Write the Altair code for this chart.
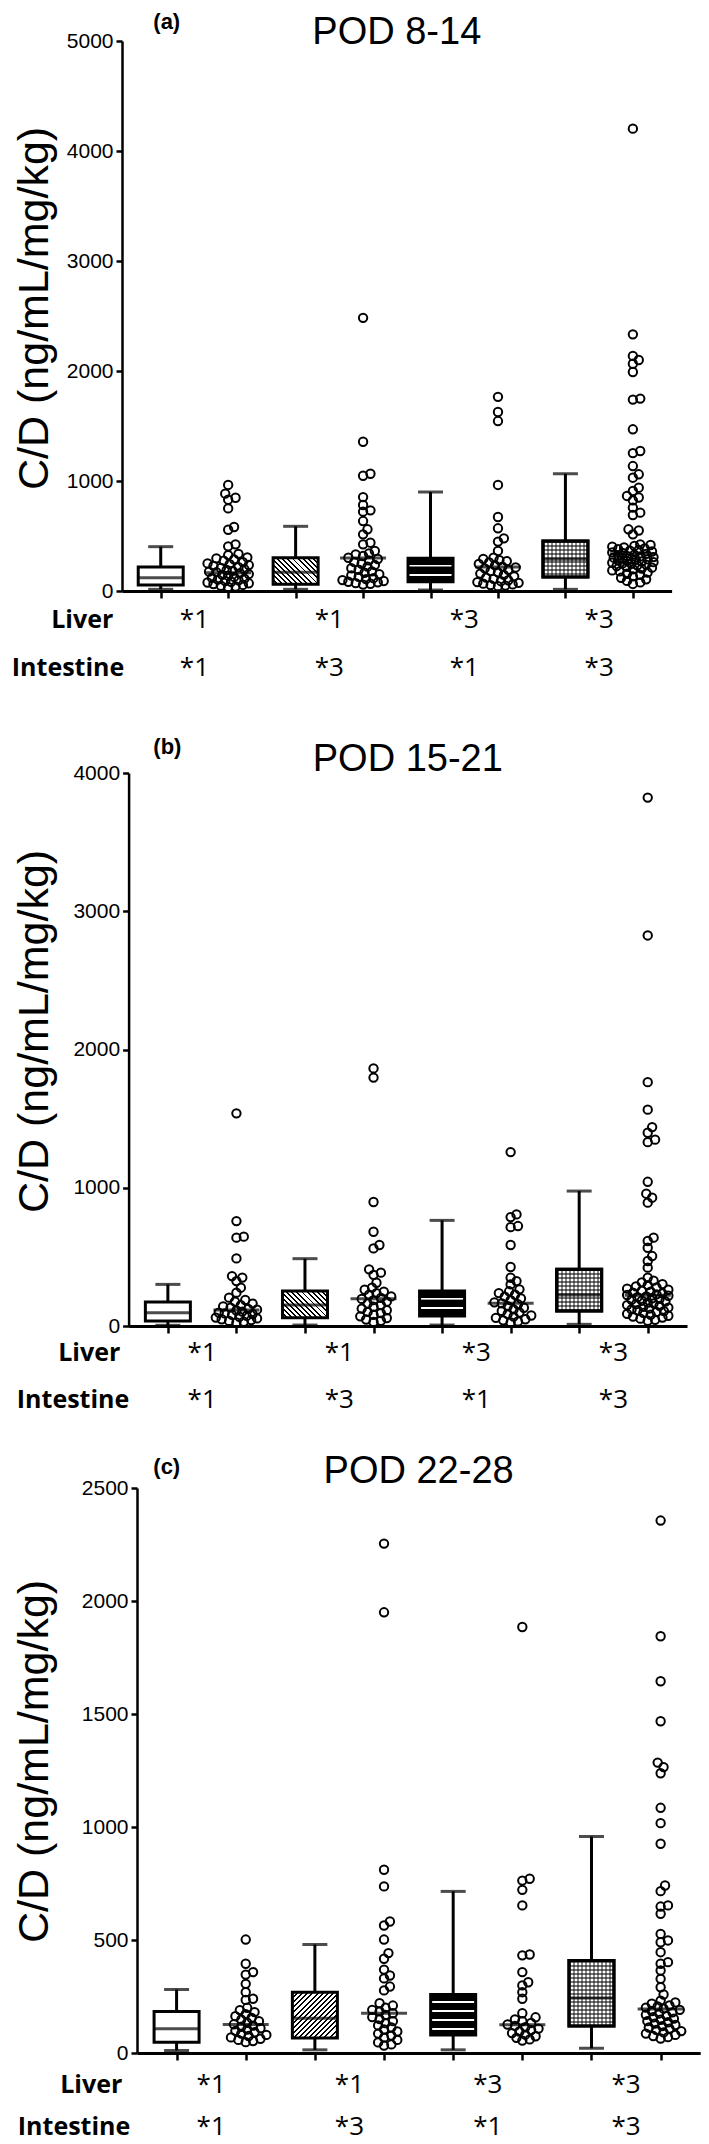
import math
import altair as alt
import pandas as pd

# ---------------- data ----------------
PANEL_LABELS = ["(a)", "(b)", "(c)"]
PANEL_TITLES = ["POD 8-14", "POD 15-21", "POD 22-28"]
Y_TITLE = "C/D (ng/mL/mg/kg)"
ROW_LIVER = "Liver"
ROW_INTESTINE = "Intestine"
LIVER = ["*1", "*1", "*3", "*3"]
INTESTINE = ["*1", "*3", "*1", "*3"]
POSITIONS = [1, 2, 3, 4, 5, 6, 7, 8]
BOX_POS = [1, 3, 5, 7]
DOT_POS = [2, 4, 6, 8]
LABEL_POS = [1.5, 3.5, 5.5, 7.5]

A_YMAX = 5000
A_TICKS = [0, 1000, 2000, 3000, 4000, 5000]
A_MIN = [15, 15, 9, 15]
A_Q1 = [55, 61, 85, 127]
A_MED = [121, 170, 212, 288]
A_Q3 = [218, 303, 297, 455]
A_MAX = [403, 588, 900, 1066]
A_DOT_MED = [167, 300, 218, 339]
A_DOTS_1 = [964, 885, 848, 830, 751, 582, 557, 424, 406, 338, 326, 305, 297, 288, 276, 262,
            251, 244, 236, 228, 217, 209, 198, 191, 183, 176, 171, 162, 154, 147, 139, 128,
            119, 112, 104, 97, 91, 84, 77, 70, 63, 55, 48, 41, 36]
A_DOTS_2 = [2483, 1357, 1066, 1048, 854, 782, 733, 721, 636, 561, 515, 439, 424, 364, 341, 333,
            318, 302, 291, 279, 262, 248, 236, 221, 207, 193, 178, 166, 152, 141, 128, 117,
            108, 99, 91, 84, 79, 72, 66, 58]
A_DOTS_3 = [1765, 1627, 1545, 964, 673, 570, 479, 449, 364, 303, 292, 280, 271, 259, 246, 233,
            222, 214, 205, 193, 181, 170, 158, 146, 133, 121, 110, 98, 89, 81, 74, 67, 60, 54,
            49, 44]
A_DOTS_4 = [4203, 2333, 2137, 2100, 2066, 1991, 1749, 1740, 1470, 1273, 1254, 1136, 1061, 1030,
            939, 909, 864, 850, 824, 758, 712, 691, 561, 550, 515, 424, 418, 410, 402, 396, 388,
            381, 374, 366, 359, 351, 345, 337, 331, 326, 319, 314, 308, 303, 297, 292, 288, 283,
            277, 272, 268, 262, 257, 251, 246, 240, 233, 227, 219, 212, 204, 196, 187, 178, 168,
            157, 146, 133, 120, 106, 92, 78, 64]

B_YMAX = 4000
B_TICKS = [0, 1000, 2000, 3000, 4000]
B_MIN = [5, 7, 7, 12]
B_Q1 = [36, 60, 72, 108]
B_MED = [96, 152, 181, 224]
B_Q3 = [173, 253, 253, 410]
B_MAX = [301, 487, 764, 976]
B_DOT_MED = [116, 198, 164, 222]
B_DOTS_1 = [1538, 759, 646, 639, 489, 361, 350, 325, 277, 241, 205, 188, 176, 162, 150, 141,
            133, 124, 118, 112, 104, 97, 91, 86, 80, 73, 67, 61, 55, 49, 43, 37, 31, 26]
B_DOTS_2 = [1863, 1797, 897, 682, 586, 561, 410, 386, 370, 313, 277, 262, 249, 238, 226, 214,
            203, 196, 187, 176, 163, 151, 139, 126, 114, 102, 93, 81, 70, 58, 47, 38, 29]
B_DOTS_3 = [1258, 807, 788, 723, 715, 586, 427, 349, 325, 301, 265, 251, 238, 226, 212, 199,
            186, 171, 164, 157, 143, 132, 120, 109, 98, 87, 76, 68, 59, 49, 41, 33, 26]
B_DOTS_4 = [3822, 2825, 1764, 1565, 1439, 1398, 1348, 1330, 1043, 957, 928, 892, 639, 615, 566,
            506, 470, 422, 349, 328, 316, 303, 296, 287, 279, 270, 262, 255, 248, 241, 236, 229,
            224, 219, 214, 208, 201, 196, 190, 183, 177, 170, 164, 158, 151, 146, 139, 133, 127,
            120, 114, 108, 101, 95, 88, 81, 74, 68, 61, 53, 45, 38]

C_YMAX = 2500
C_TICKS = [0, 500, 1000, 1500, 2000, 2500]
C_MIN = [11, 14, 14, 21]
C_Q1 = [48, 66, 80, 119]
C_MED = [107, 154, 158, 243]
C_Q3 = [184, 269, 259, 409]
C_MAX = [281, 480, 715, 958]
C_DOT_MED = [126, 176, 125, 195]
C_DOTS_1 = [502, 395, 358, 347, 306, 269, 240, 235, 200, 190, 181, 172, 163, 155, 148, 141,
            134, 127, 121, 116, 110, 104, 98, 92, 86, 80, 75, 69, 63, 58, 53, 48]
C_DOTS_2 = [2254, 1950, 811, 737, 582, 564, 502, 442, 417, 369, 343, 330, 294, 277, 220, 210,
            200, 191, 184, 176, 168, 159, 150, 141, 132, 122, 113, 104, 95, 86, 77, 68, 58, 47,
            38, 33]
C_DOTS_3 = [1885, 771, 763, 722, 653, 436, 432, 358, 313, 299, 269, 240, 176, 158, 149, 141,
            133, 126, 120, 114, 108, 101, 95, 88, 81, 74, 67, 60, 55]
C_DOTS_4 = [2356, 1844, 1645, 1468, 1285, 1265, 1238, 1085, 1017, 926, 741, 716, 653, 648, 616,
            527, 498, 490, 446, 402, 395, 365, 328, 291, 259, 232, 224, 218, 211, 206, 201, 196,
            191, 186, 180, 175, 169, 164, 158, 152, 147, 141, 136, 130, 124, 119, 113, 108, 102,
            97, 91, 86, 80, 75, 70, 64]

# ---------------- layout / style ----------------
FONT_SANS = "Liberation Sans"
FONT_LABEL = "Open Sans"
COMMON_LEFT = 121.7
Y_TITLE_RIGHT = 57

LAYOUT = [
    dict(H=550, S=68.7, P=121.7, title_dy=3.0, label_dy=-12.0, liver_dy=37.3,
         intestine_dy=85, liver_x=113, intestine_x=124, hatch="back", ytitle_start=449),
    dict(H=553, S=69.8, P=128.3, title_dy=-2.4, label_dy=-19.5, liver_dy=35,
         intestine_dy=82, liver_x=120, intestine_x=129, hatch="back", ytitle_start=440),
    dict(H=565, S=70.4, P=136.7, title_dy=-5.2, label_dy=-14.5, liver_dy=40,
         intestine_dy=82, liver_x=122, intestine_x=130, hatch="fwd", ytitle_start=455),
]

PANEL_DATA = [
    dict(ymax=A_YMAX, ticks=A_TICKS, mn=A_MIN, q1=A_Q1, med=A_MED, q3=A_Q3, mx=A_MAX,
         dmed=A_DOT_MED, dots=[A_DOTS_1, A_DOTS_2, A_DOTS_3, A_DOTS_4]),
    dict(ymax=B_YMAX, ticks=B_TICKS, mn=B_MIN, q1=B_Q1, med=B_MED, q3=B_Q3, mx=B_MAX,
         dmed=B_DOT_MED, dots=[B_DOTS_1, B_DOTS_2, B_DOTS_3, B_DOTS_4]),
    dict(ymax=C_YMAX, ticks=C_TICKS, mn=C_MIN, q1=C_Q1, med=C_MED, q3=C_Q3, mx=C_MAX,
         dmed=C_DOT_MED, dots=[C_DOTS_1, C_DOTS_2, C_DOTS_3, C_DOTS_4]),
]

BOX_W = 45
CAP_W = 25
LINE_W = 3


def stripe_stops(length, period, on, c_on, c_off):
    stops = []
    t = 0.0
    while t < length:
        a = t / length
        b = min((t + on) / length, 1.0)
        c = min((t + period) / length, 1.0)
        stops += [{"offset": a, "color": c_on}, {"offset": b, "color": c_on},
                  {"offset": b, "color": c_off}, {"offset": c, "color": c_off}]
        t += period
    return stops


def hatch_fill(w, h, direction):
    k = (w + h) / (w * w + h * h)
    if direction == "back":
        x1, y1, x2, y2 = 1.0, 0.0, 1.0 - k * w, k * h
    else:
        x1, y1, x2, y2 = 0.0, 0.0, k * w, k * h
    length = (w + h) / math.sqrt(2)
    return {"gradient": "linear", "x1": x1, "y1": y1, "x2": x2, "y2": y2,
            "stops": stripe_stops(length, 3.6, 1.4, "black", "white")}


def hstripe_fill(h, period, on, c_on, c_off):
    return {"gradient": "linear", "x1": 0, "y1": 0, "x2": 0, "y2": 1,
            "stops": stripe_stops(h, period, on, c_on, c_off)}


def vstripe_fill(w, period, on, c_on, c_off):
    return {"gradient": "linear", "x1": 0, "y1": 0, "x2": 1, "y2": 0,
            "stops": stripe_stops(w, period, on, c_on, c_off)}


def swarm_offsets(values, px_per_value, min_dist=6.5, max_off=22.0, step=1.5):
    cands = [0.0]
    k = 1
    while k * step <= max_off:
        cands += [k * step, -k * step]
        k += 1
    order = sorted(range(len(values)), key=lambda i: values[i])
    placed = []
    offs = [0.0] * len(values)
    for i in order:
        y = values[i] * px_per_value
        best, best_gap = 0.0, -1.0
        for c in cands:
            near = [math.hypot(c - px, y - py) for py, px in placed if abs(y - py) < min_dist]
            gap = min(near) if near else 1e9
            if gap >= min_dist:
                best = c
                break
            if gap > best_gap:
                best, best_gap = c, gap
        placed.append((y, best))
        offs[i] = best
    return offs


def build_panel(idx):
    lay = LAYOUT[idx]
    dat = PANEL_DATA[idx]
    H, S = lay["H"], lay["S"]
    d = lay["P"] - COMMON_LEFT
    W = d + 8 * S
    py = H / dat["ymax"]

    xs = alt.Scale(domain=[0.5, 8.5], range=[d, W], nice=False, zero=False)
    ys = alt.Scale(domain=[0, dat["ymax"]], nice=False, zero=True)
    xaxis = alt.Axis(values=POSITIONS, labels=False, title=None, grid=False,
                     domainColor="black", domainWidth=3, tickColor="black",
                     tickWidth=2.5, tickSize=7)
    yaxis = alt.Axis(values=dat["ticks"], format="d", grid=False, title=None,
                     labelFontSize=21, labelFont=FONT_SANS, labelColor="black", labelPadding=3,
                     tickSize=6, tickWidth=2.5, tickColor="black", domainWidth=2.5,
                     domainColor="black", offset=-d)

    def X(field):
        return alt.X(field, type="quantitative", scale=xs, axis=xaxis)

    def Y(field):
        return alt.Y(field, type="quantitative", scale=ys, axis=yaxis)

    box = pd.DataFrame({"pos": BOX_POS, "mn": dat["mn"], "q1": dat["q1"], "med": dat["med"],
                        "q3": dat["q3"], "mx": dat["mx"], "grp": [1, 2, 3, 4]})
    dmed = pd.DataFrame({"pos": DOT_POS, "med": dat["dmed"]})
    rows = []
    for pos, vals in zip(DOT_POS, dat["dots"]):
        offs = swarm_offsets(vals, py)
        for v, o in zip(vals, offs):
            rows.append({"xp": pos + o / S, "v": v})
    dots = pd.DataFrame(rows)
    labs = pd.DataFrame({"xc": LABEL_POS, "liver": LIVER, "intestine": INTESTINE})

    layers = []
    base = alt.Chart(box)
    layers.append(base.mark_rule(color="black", strokeWidth=LINE_W).encode(
        x=X("pos"), y=Y("q3"), y2="mx"))
    layers.append(base.mark_rule(color="black", strokeWidth=LINE_W).encode(
        x=X("pos"), y=Y("mn"), y2="q1"))
    layers.append(base.mark_tick(orient="horizontal", size=CAP_W, thickness=LINE_W,
                                 color="black").encode(x=X("pos"), y=Y("mx")))
    layers.append(base.mark_tick(orient="horizontal", size=CAP_W, thickness=LINE_W,
                                 color="black").encode(x=X("pos"), y=Y("mn")))

    hpx = [(dat["q3"][i] - dat["q1"][i]) * py for i in range(4)]
    fills = [
        "white",
        hatch_fill(BOX_W, hpx[1], lay["hatch"]),
        hstripe_fill(hpx[2], 9, 7, "black", "white"),
        hstripe_fill(hpx[3], 4, 2, "#7a7a7a", "white"),
    ]
    for g in range(4):
        layers.append(alt.Chart(box[box.grp == g + 1]).mark_bar(
            size=BOX_W, fill=fills[g], stroke="black", strokeWidth=LINE_W).encode(
            x=X("pos"), y=Y("q1"), y2="q3"))
    layers.append(alt.Chart(box[box.grp == 4]).mark_bar(
        size=BOX_W, fill=vstripe_fill(BOX_W, 4, 2, "rgba(0,0,0,0.45)", "rgba(0,0,0,0)"),
        stroke="black", strokeWidth=LINE_W).encode(x=X("pos"), y=Y("q1"), y2="q3"))
    layers.append(base.mark_tick(orient="horizontal", size=BOX_W, thickness=LINE_W,
                                 color="black").encode(x=X("pos"), y=Y("med")))

    layers.append(alt.Chart(dots).mark_point(shape="circle", filled=False, size=70,
                                             strokeWidth=2, color="black", opacity=1).encode(
        x=X("xp"), y=Y("v")))
    layers.append(alt.Chart(dmed).mark_tick(orient="horizontal", size=46, thickness=LINE_W,
                                            color="black").encode(x=X("pos"), y=Y("med")))

    # text annotations
    layers.append(alt.Chart(labs).mark_text(font=FONT_LABEL, fontSize=26, color="black",
                                            baseline="alphabetic").encode(
        x=X("xc"), y=alt.value(H + lay["liver_dy"]), text="liver:N"))
    layers.append(alt.Chart(labs).mark_text(font=FONT_LABEL, fontSize=26, color="black",
                                            baseline="alphabetic").encode(
        x=X("xc"), y=alt.value(H + lay["intestine_dy"]), text="intestine:N"))
    layers.append(alt.Chart(pd.DataFrame({"t": [ROW_LIVER]})).mark_text(
        font=FONT_LABEL, fontSize=25, fontWeight="bold", color="black", align="right",
        baseline="alphabetic").encode(
        x=alt.value(lay["liver_x"] - COMMON_LEFT), y=alt.value(H + lay["liver_dy"]),
        text="t:N"))
    layers.append(alt.Chart(pd.DataFrame({"t": [ROW_INTESTINE]})).mark_text(
        font=FONT_LABEL, fontSize=25, fontWeight="bold", color="black", align="right",
        baseline="alphabetic").encode(
        x=alt.value(lay["intestine_x"] - COMMON_LEFT), y=alt.value(H + lay["intestine_dy"]),
        text="t:N"))
    layers.append(alt.Chart(pd.DataFrame({"t": [PANEL_TITLES[idx]]})).mark_text(
        font=FONT_SANS, fontSize=38, color="black", align="center",
        baseline="alphabetic").encode(
        x=alt.value(d + 4 * S), y=alt.value(lay["title_dy"]), text="t:N"))
    layers.append(alt.Chart(pd.DataFrame({"t": [PANEL_LABELS[idx]]})).mark_text(
        font=FONT_SANS, fontSize=22, fontWeight="bold", color="black", align="left",
        baseline="alphabetic").encode(
        x=alt.value(153 - COMMON_LEFT), y=alt.value(lay["label_dy"]), text="t:N"))
    layers.append(alt.Chart(pd.DataFrame({"t": [Y_TITLE]})).mark_text(
        font=FONT_SANS, fontSize=43, color="black", align="left", baseline="bottom",
        angle=270).encode(
        x=alt.value(Y_TITLE_RIGHT - COMMON_LEFT), y=alt.value(lay["ytitle_start"]),
        text="t:N"))

    return alt.layer(*layers).properties(width=W, height=H)


pa = build_panel(0)
pb = build_panel(1)
pc = build_panel(2)

chart = alt.vconcat(alt.vconcat(pa, pb, spacing=53), pc, spacing=38).properties(
    padding={"left": 3, "top": 2, "right": 0, "bottom": 4}
).configure(font=FONT_SANS).configure_view(stroke="transparent")

chart.save("out.html", embed_options={"renderer": "svg", "actions": False})
